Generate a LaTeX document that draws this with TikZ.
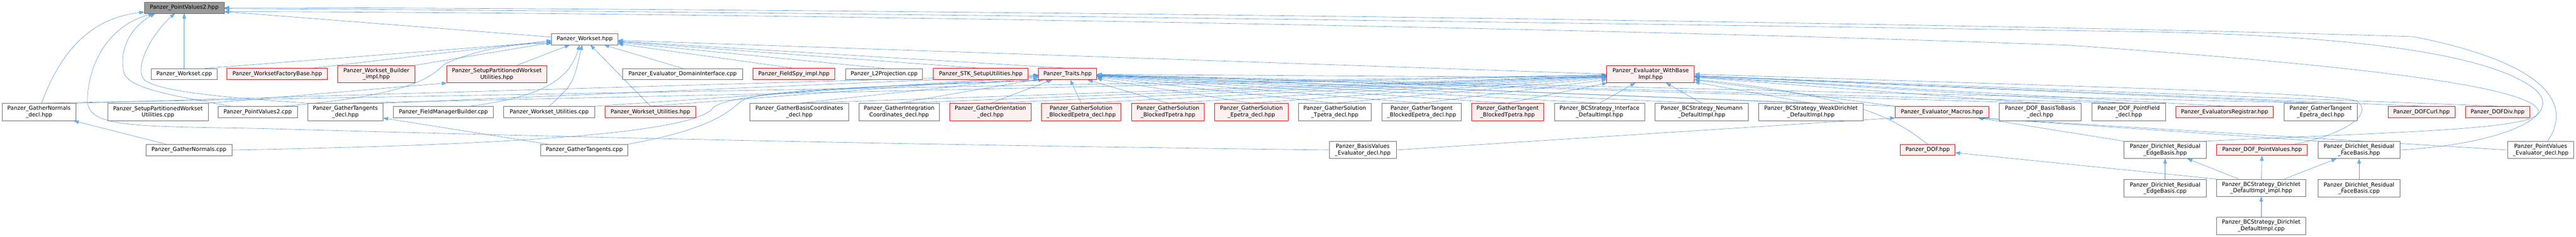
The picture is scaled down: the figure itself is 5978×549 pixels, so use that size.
\documentclass[tikz,border=0pt]{standalone}
\usepackage{fontspec}
\setmainfont{DejaVu Sans}
\usepackage{tikz}
\usetikzlibrary{arrows.meta, positioning, backgrounds}
\definecolor{edgeblue}{RGB}{72,142,212}
\definecolor{tipblue}{RGB}{99,184,255}
\definecolor{boxgray}{RGB}{102,102,102}
\definecolor{rootgray}{RGB}{153,153,153}
\definecolor{redline}{RGB}{220,0,0}
\definecolor{redfill}{RGB}{255,240,240}
\newcommand{\doxfont}{\fontsize{12.8pt}{15pt}\selectfont}
\tikzstyle{file} = [draw=boxgray, fill=white, rectangle, line width=1pt, inner sep=0pt, minimum height=26pt, align=center, font=\doxfont]
\tikzstyle{redfile} = [file, draw=redline, fill=redfill, line width=1.2pt]
\tikzstyle{rootfile} = [file, fill=rootgray]
\tikzstyle{two} = [minimum height=40pt]
\tikzstyle{edge} = [draw=edgeblue, line width=0.7pt, -{Triangle[length=11pt, width=8pt, fill=tipblue]}]

\begin{document}
\begin{tikzpicture}[x=1pt, y=-1pt]
    \useasboundingbox (0,0) rectangle (5978,549);
    % the included file and its first includer
    \node[rootfile, minimum width=185pt] (pv2h) at (427.5,18) {Panzer\_PointValues2.hpp};
    \node[file, minimum width=154pt] (wsh) at (1357,91) {Panzer\_Workset.hpp};
    % second row
    \node[file, minimum width=153pt] (wscpp) at (427.5,172) {Panzer\_Workset.cpp};
    \node[redfile, minimum width=233pt] (wsfb) at (643.5,172) {Panzer\_WorksetFactoryBase.hpp};
    \node[redfile, two, minimum width=179pt] (wsbi) at (873.5,172) {Panzer\_Workset\_Builder\\\_impl.hpp};
    \node[redfile, two, minimum width=232pt] (spwuh) at (1153,172) {Panzer\_SetupPartitionedWorkset\\Utilities.hpp};
    \node[file, minimum width=278pt] (edi) at (1584,172) {Panzer\_Evaluator\_DomainInterface.cpp};
    \node[redfile, minimum width=191pt] (fsi) at (1842.5,172) {Panzer\_FieldSpy\_impl.hpp};
    \node[file, minimum width=178pt] (l2p) at (2052,172) {Panzer\_L2Projection.cpp};
    \node[redfile, minimum width=220pt] (stk) at (2276,172) {Panzer\_STK\_SetupUtilities.hpp};
    \node[redfile, minimum width=135pt] (traits) at (2477.5,172) {Panzer\_Traits.hpp};
    \node[redfile, two, minimum width=203pt] (ewbi) at (3830.5,172) {Panzer\_Evaluator\_WithBase\\Impl.hpp};
    % third row
    \node[file, two, minimum width=171pt] (gnd) at (90.5,260) {Panzer\_GatherNormals\\\_decl.hpp};
    \node[file, two, minimum width=233pt] (spwucpp) at (366.5,260) {Panzer\_SetupPartitionedWorkset\\Utilities.cpp};
    \node[file, minimum width=184pt] (pv2cpp) at (598,260) {Panzer\_PointValues2.cpp};
    \node[file, two, minimum width=175pt] (gtd) at (801.5,260) {Panzer\_GatherTangents\\\_decl.hpp};
    \node[file, minimum width=232pt] (fmb) at (1029,260) {Panzer\_FieldManagerBuilder.cpp};
    \node[file, minimum width=211pt] (wsucpp) at (1274.5,260) {Panzer\_Workset\_Utilities.cpp};
    \node[redfile, minimum width=211pt] (wsuh) at (1509.5,260) {Panzer\_Workset\_Utilities.hpp};
    \node[file, two, minimum width=230pt] (gbcd) at (1855,260) {Panzer\_GatherBasisCoordinates\\\_decl.hpp};
    \node[file, two, minimum width=187pt] (gicd) at (2086.5,260) {Panzer\_GatherIntegration\\Coordinates\_decl.hpp};
    \node[redfile, two, minimum width=189pt] (god) at (2298.5,260) {Panzer\_GatherOrientation\\\_decl.hpp};
    \node[redfile, two, minimum width=184pt] (gsbed) at (2509,260) {Panzer\_GatherSolution\\\_BlockedEpetra\_decl.hpp};
    \node[redfile, two, minimum width=169pt] (gsbt) at (2710.5,260) {Panzer\_GatherSolution\\\_BlockedTpetra.hpp};
    \node[redfile, two, minimum width=170pt] (gsed) at (2904,260) {Panzer\_GatherSolution\\\_Epetra\_decl.hpp};
    \node[file, two, minimum width=169pt] (gstd) at (3097.5,260) {Panzer\_GatherSolution\\\_Tpetra\_decl.hpp};
    \node[file, two, minimum width=184pt] (gtbed) at (3299,260) {Panzer\_GatherTangent\\\_BlockedEpetra\_decl.hpp};
    \node[redfile, two, minimum width=167pt] (gtbt) at (3498.5,260) {Panzer\_GatherTangent\\\_BlockedTpetra.hpp};
    \node[file, two, minimum width=210pt] (bcsi) at (3712,260) {Panzer\_BCStrategy\_Interface\\\_DefaultImpl.hpp};
    \node[file, two, minimum width=216pt] (bcsn) at (3949,260) {Panzer\_BCStrategy\_Neumann\\\_DefaultImpl.hpp};
    \node[file, two, minimum width=243pt] (bcsw) at (4202.5,260) {Panzer\_BCStrategy\_WeakDirichlet\\\_DefaultImpl.hpp};
    \node[redfile, minimum width=217pt] (emac) at (4506.5,260) {Panzer\_Evaluator\_Macros.hpp};
    \node[file, two, minimum width=191pt] (dofbb) at (4734.5,260) {Panzer\_DOF\_BasisToBasis\\\_decl.hpp};
    \node[file, two, minimum width=170pt] (dofpf) at (4940,260) {Panzer\_DOF\_PointField\\\_decl.hpp};
    \node[redfile, minimum width=227pt] (ereg) at (5162.5,260) {Panzer\_EvaluatorsRegistrar.hpp};
    \node[file, two, minimum width=169pt] (gted) at (5385.5,260) {Panzer\_GatherTangent\\\_Epetra\_decl.hpp};
    \node[redfile, minimum width=155pt] (dofcurl) at (5619.5,260) {Panzer\_DOFCurl.hpp};
    \node[redfile, minimum width=150pt] (dofdiv) at (5796,260) {Panzer\_DOFDiv.hpp};
    % fourth row
    \node[file, minimum width=199pt] (gncpp) at (438.5,348) {Panzer\_GatherNormals.cpp};
    \node[file, minimum width=202pt] (gtcpp) at (1356,348) {Panzer\_GatherTangents.cpp};
    \node[file, two, minimum width=155pt] (bved) at (3162.5,348) {Panzer\_BasisValues\\\_Evaluator\_decl.hpp};
    \node[redfile, minimum width=127pt] (dof) at (4473.5,348) {Panzer\_DOF.hpp};
    \node[file, two, minimum width=191pt] (dreh) at (5024.5,348) {Panzer\_Dirichlet\_Residual\\\_EdgeBasis.hpp};
    \node[redfile, minimum width=211pt] (dofpv) at (5249.5,348) {Panzer\_DOF\_PointValues.hpp};
    \node[file, two, minimum width=191pt] (drfh) at (5474.5,348) {Panzer\_Dirichlet\_Residual\\\_FaceBasis.hpp};
    \node[file, two, minimum width=154pt] (pved) at (5896,348) {Panzer\_PointValues\\\_Evaluator\_decl.hpp};
    % bottom rows
    \node[file, two, minimum width=191pt, below=48pt of dreh] (drecpp) {Panzer\_Dirichlet\_Residual\\\_EdgeBasis.cpp};
    \node[file, two, minimum width=207pt] (bcsddi) at (5247.5,436) {Panzer\_BCStrategy\_Dirichlet\\\_DefaultImpl\_impl.hpp};
    \node[file, two, minimum width=191pt, below=48pt of drfh] (drfcpp) {Panzer\_Dirichlet\_Residual\\\_FaceBasis.cpp};
    \node[file, two, minimum width=207pt, below=47pt of bcsddi] (bcsdcpp) {Panzer\_BCStrategy\_Dirichlet\\\_DefaultImpl.cpp};

    \begin{pgfonlayer}{background}
    % into Panzer_PointValues2.hpp
    \draw[edge] (wscpp) -- (pv2h);
    \draw[edge] ([yshift=5pt]wsh.west) -- ([yshift=-9pt]pv2h.east);
    \draw[edge] ([xshift=6pt]gnd.north) .. controls (140,120) and (210,42) .. ([yshift=-10pt]pv2h.west);
    \draw[edge] ([xshift=30pt]pv2cpp.north west) .. controls (400,222) and (300,205) .. (288,170) .. controls (275,120) and (300,65) .. ([xshift=25pt]pv2h.south west);
    \draw[edge] (gtd.north west) .. controls (550,228) and (370,215) .. (335,185) .. controls (310,160) and (350,80) .. ([xshift=-22pt]pv2h.south);
    \draw[edge] (bved.west) .. controls (2000,335) and (1200,315) .. (600,298) .. controls (300,293) and (200,295) .. (203,230) .. controls (205,150) and (250,60) .. ([xshift=21pt]pv2h.south west);
    \draw[edge] ([xshift=16pt]pved.north) .. controls (5965,250) and (5930,150) .. (5600,85) .. controls (4500,50) and (1800,18) .. (pv2h.east);
    \draw[edge] (drfh.east) .. controls (5800,335) and (5960,270) .. (5880,205) .. controls (5780,130) and (5500,85) .. (5000,74) .. controls (3500,50) and (1500,24) .. ([yshift=-2pt]pv2h.east);
    \draw[edge] ([xshift=-5pt]dreh.north east) .. controls (5600,305) and (5910,300) .. (5890,255) .. controls (5870,210) and (5600,160) .. (4800,105) .. controls (3600,60) and (1500,28) .. ([yshift=-9pt]pv2h.east);
    % into Panzer_Workset.hpp
    \draw[edge] ([xshift=-28pt]wscpp.north east) -- ([yshift=-6pt]wsh.west);
    \draw[edge] ([xshift=-38pt]wsfb.north east) -- ([yshift=-3pt]wsh.west);
    \draw[edge] (wsbi.north east) -- ([yshift=-8pt]wsh.west);
    \draw[edge] ([xshift=-70pt]spwuh.north east) -- (wsh);
    \foreach \n in {edi, wsuh, fsi, l2p, stk, traits}
        \draw[edge] (\n.north) -- (wsh);
    \draw[edge] (ewbi.west) -- (wsh);
    \draw[edge] ([xshift=-33pt]pv2cpp.north east) .. controls (950,222) and (1000,180) .. (1030,150) .. controls (1100,115) and (1200,100) .. ([yshift=-10pt]wsh.west);
    \draw[edge] ([xshift=-54pt]fmb.north east) .. controls (1250,225) and (1320,190) .. ([xshift=-12pt]wsh.south);
    \draw[edge] (wsucpp.north) .. controls (1330,195) .. ([xshift=-6pt]wsh.south);
    % into Panzer_SetupPartitionedWorksetUtilities.hpp
    \draw[edge] (spwucpp.north east) -- (spwuh.south west);
    % into Panzer_Traits.hpp
    \draw[edge] (gnd.north east) -- (traits);
    \draw[edge] (gtd.north east) -- (traits);
    \draw[edge] (gncpp.east) .. controls (1300,335) and (1620,300) .. (1655,250) .. controls (1690,215) and (2000,200) .. ([xshift=12pt]traits.south west);
    \draw[edge] (gtcpp.north east) .. controls (1650,300) and (1690,260) .. (1720,235) .. controls (1760,205) and (2100,200) .. ([xshift=30pt]traits.south west);
    \draw[edge] (wsucpp.north east) -- (traits);
    \foreach \n in {wsuh, gbcd, gicd, god, gsbed, gsbt, gsed, gstd, gtbed, gtbt, bcsi, bcsn, bcsw, dofbb, dofpf, gted}
        \draw[edge] (\n.north) -- (traits);
    \draw[edge] (emac.north west) -- (traits);
    \draw[edge] ([yshift=-8pt]ewbi.west) -- (traits);
    % into Panzer_Evaluator_WithBaseImpl.hpp
    \foreach \n in {gnd, gtd, gbcd, gicd, god, gsbed, gsbt, gsed, gstd, gtbed, gtbt, bcsi, bcsn, bcsw, dofbb, dofpf, ereg, gted, dofcurl, dofdiv}
        \draw[edge] (\n.north) -- (ewbi);
    \draw[edge] (emac.north west) -- (ewbi);
    \draw[edge] (dof.north) .. controls (4400,280) and (4330,225) .. ([yshift=-12pt]ewbi.east);
    \draw[edge] ([xshift=-30pt]dofpv.north east) .. controls (5440,312) and (5510,265) .. (5470,235) .. controls (5420,215) and (4800,200) .. (ewbi.east);
    % into Panzer_Evaluator_Macros.hpp
    \draw[edge] (bved.east) -- (emac.south west);
    \foreach \n in {dreh, drfh}
        \draw[edge] (\n.north west) -- ([xshift=-25pt]emac.south east);
    \draw[edge] (pved.west) -- ([xshift=-25pt]emac.south east);
    % lower files
    \draw[edge] (gncpp) -- (gnd);
    \draw[edge] (gtcpp) -- (gtd);
    \draw[edge] (drecpp) -- (dreh);
    \draw[edge] (drfcpp) -- (drfh);
    \draw[edge] (bcsdcpp) -- (bcsddi);
    \foreach \n in {dreh, dofpv, drfh}
        \draw[edge] (bcsddi) -- (\n);
    \draw[edge] (bcsddi.north west) -- (dof);
    \end{pgfonlayer}
\end{tikzpicture}
\end{document}
